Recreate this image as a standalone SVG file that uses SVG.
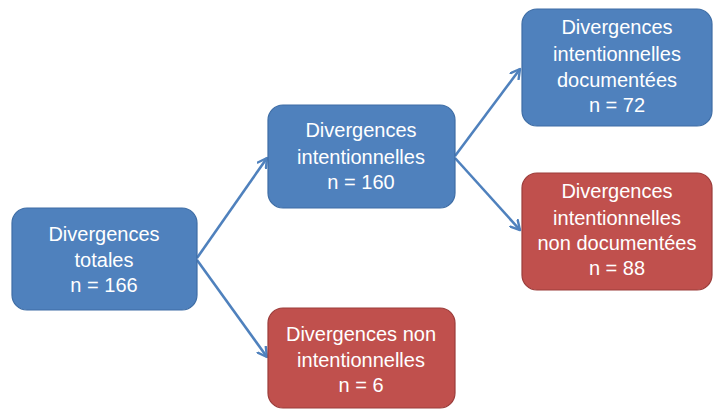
<svg xmlns="http://www.w3.org/2000/svg" width="713" height="410" viewBox="0 0 713 410">
<style>
.blue{fill:#4F81BD;stroke:#3E6DA5;stroke-width:1.2}
.red{fill:#C0504D;stroke:#9B3C3A;stroke-width:1.2}
text{font-family:"Liberation Sans",Arial,sans-serif;font-size:20px;fill:#FFFFFF;text-anchor:middle}
.conn line{stroke:#4F81BD;stroke-width:2.6;fill:none}
</style>
<defs>
<marker id="arr" viewBox="0 0 12 12" refX="10" refY="6" markerWidth="12" markerHeight="12" markerUnits="userSpaceOnUse" orient="auto">
<polyline points="1,1 10,6 1,11" fill="none" stroke="#4F81BD" stroke-width="2.4" stroke-linecap="round" stroke-linejoin="round"/>
</marker>
</defs>
<g id="connectors" class="conn">
<line x1="197" y1="258" x2="267" y2="158" marker-end="url(#arr)"/>
<line x1="197" y1="260" x2="267" y2="357" marker-end="url(#arr)"/>
<line x1="455" y1="156" x2="520" y2="69" marker-end="url(#arr)"/>
<line x1="455" y1="158" x2="520" y2="230" marker-end="url(#arr)"/>
</g>
<g id="node-totales">
<rect class="blue" x="12" y="208" width="185" height="102" rx="15"/>
<text x="104" y="241">Divergences</text>
<text x="104" y="267">totales</text>
<text x="104" y="292">n = 166</text>
</g>
<g id="node-intentionnelles">
<rect class="blue" x="268" y="105" width="187" height="103" rx="15"/>
<text x="361" y="137">Divergences</text>
<text x="361" y="164">intentionnelles</text>
<text x="361" y="189">n = 160</text>
</g>
<g id="node-documentees">
<rect class="blue" x="522" y="9" width="190" height="117" rx="15"/>
<text x="617" y="34">Divergences</text>
<text x="617" y="61">intentionnelles</text>
<text x="617" y="87">documentées</text>
<text x="617" y="112">n = 72</text>
</g>
<g id="node-non-documentees">
<rect class="red" x="522" y="173" width="190" height="117" rx="15"/>
<text x="617" y="198">Divergences</text>
<text x="617" y="225">intentionnelles</text>
<text x="617" y="250">non documentées</text>
<text x="617" y="275">n = 88</text>
</g>
<g id="node-non-intentionnelles">
<rect class="red" x="268" y="308" width="187" height="100" rx="15"/>
<text x="361" y="341">Divergences non</text>
<text x="361" y="367">intentionnelles</text>
<text x="361" y="392">n = 6</text>
</g>
</svg>
